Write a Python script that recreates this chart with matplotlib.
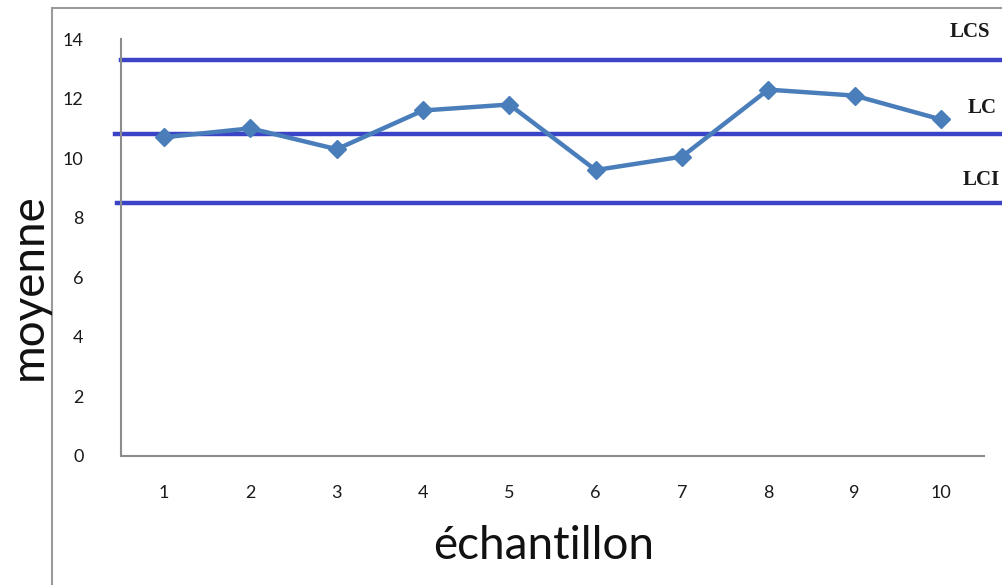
import matplotlib
matplotlib.use("Agg")
import matplotlib.pyplot as plt
from matplotlib.patches import Rectangle

# sample means of the control chart
echantillons = [1, 2, 3, 4, 5, 6, 7, 8, 9, 10]
moyennes = [10.7, 11.0, 10.3, 11.6, 11.8, 9.6, 10.05, 12.3, 12.1, 11.3]

# control limits
limites = ["LCS", "LC", "LCI"]
valeurs_limites = [13.3, 10.8, 8.5]

fig = plt.figure(figsize=(10.03, 5.85), dpi=100)
W, H = 1003, 585

# outer chart frame
fig.patches.append(Rectangle((52 / W, -0.1), 1.2, (585 - 8) / H + 0.1,
                             transform=fig.transFigure, fill=False,
                             edgecolor="#9a9a9a", linewidth=1.5))

ax = fig.add_axes([121 / W, (H - 456) / H, (984 - 121) / W, (456 - 39) / H])
ax.set_xlim(0.5, 10.5)
ax.set_ylim(0, 14)

for s in ["top", "right"]:
    ax.spines[s].set_visible(False)
for s in ["left", "bottom"]:
    ax.spines[s].set_color("#8c8c8c")
    ax.spines[s].set_linewidth(1.5)

ax.set_xticks(echantillons)
ax.set_yticks(range(0, 15, 2))
ax.tick_params(length=0, labelsize=13, colors="#1a1a1a")
ax.tick_params(axis="x", pad=21)
ax.tick_params(axis="y", pad=27)
for lab in ax.get_xticklabels() + ax.get_yticklabels():
    lab.set_family("Lato")

# control limit lines, running to the right edge of the figure
for nom, v, x0 in zip(limites, valeurs_limites, [0.5, 0.43, 0.45]):
    ax.plot([x0, 12], [v, v], color="#3b44c6", linewidth=3.2,
            clip_on=False, zorder=2)

# labels of the limits, close to the right edge
pos_labels = [(10.1, 14.25), (10.31, 11.7), (10.25, 9.25)]
for nom, (x, y) in zip(limites, pos_labels):
    ax.text(x, y, nom, fontsize=15, fontweight="bold", family="Liberation Serif",
            ha="left", va="center", color="#1a1a1a", clip_on=False)

ax.plot(echantillons, moyennes, color="#4a7ebb", linewidth=3.2,
        marker="D", markersize=9, zorder=3)

fig.text(29 / W, 1 - 287 / H, "moyenne", rotation=90, fontsize=33,
         family="Lato", ha="center", va="center", color="#111111")
fig.text(544 / W, 1 - 546 / H, "échantillon", fontsize=33,
         family="Lato", ha="center", va="center", color="#111111")

fig.savefig("out.png", dpi=100)
